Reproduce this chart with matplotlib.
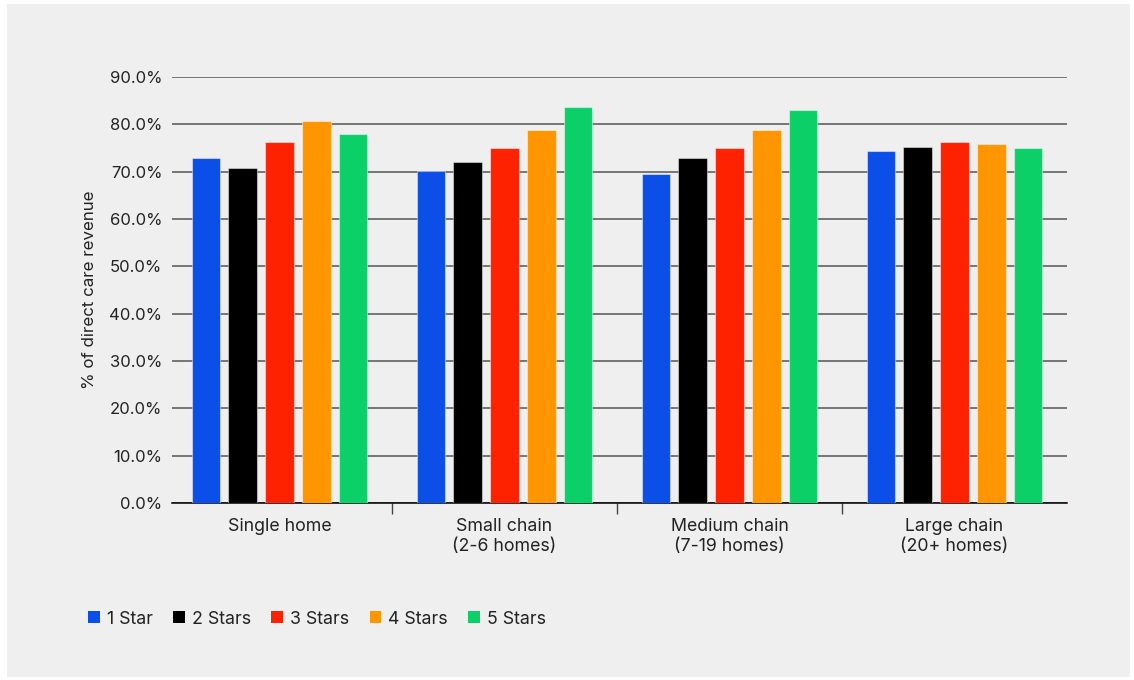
import matplotlib
matplotlib.use("Agg")
import matplotlib.pyplot as plt
import numpy as np
from matplotlib.patches import Patch, Rectangle

plt.rcParams['font.family'] = ['Inter', 'DejaVu Sans']

# Data
groups = ["Single home", "Small chain\n(2-6 homes)", "Medium chain\n(7-19 homes)", "Large chain\n(20+ homes)"]
series = ["1 Star", "2 Stars", "3 Stars", "4 Stars", "5 Stars"]
star1 = [72.9, 70.1, 69.5, 74.3]
star2 = [70.8, 72.0, 72.9, 75.2]
star3 = [76.3, 75.0, 75.0, 76.2]
star4 = [80.7, 78.8, 78.7, 75.8]
star5 = [77.9, 83.7, 83.0, 74.9]
values = [star1, star2, star3, star4, star5]
colors = ["#0b4ee8", "#000000", "#ff2200", "#ff9600", "#0bd068"]
yticks = [0, 10, 20, 30, 40, 50, 60, 70, 80, 90]

BG = "#efefef"
W, H = 1134, 680
fig = plt.figure(figsize=(W / 100, H / 100), dpi=100, facecolor="white")
# grey panel with a thin white margin
fig.patches.append(Rectangle((7 / W, 3 / H), (1130 - 7) / W, (676 - 3) / H,
                             transform=fig.transFigure, facecolor=BG,
                             edgecolor="none", zorder=-10))

ax = fig.add_axes([172 / W, 1 - 503 / H, (1067 - 172) / W, (503 - 77) / H])
ax.set_facecolor(BG)

x = np.arange(len(groups))
pitch = 0.1636
width = 0.127
for i, (vals, col) in enumerate(zip(values, colors)):
    ax.bar(x + (i - 2) * pitch, vals, width=width, color=col,
           edgecolor=(1, 1, 1, 0.45), linewidth=0.8, zorder=3)

ax.set_ylim(0, 90)
ax.set_xlim(-0.478, 3.5)
ax.set_yticks(yticks)
ax.set_yticklabels([f"{v:.1f}%" for v in yticks], fontsize=12, color="#222222")
ax.tick_params(axis="y", length=0, pad=7)
ax.yaxis.grid(True, color="#555555", linewidth=1.1, zorder=1)
ax.set_axisbelow(True)

# group separators as major ticks, group names as minor ticks
ax.set_xticks([0.5, 1.5, 2.5])
ax.set_xticklabels([])
ax.tick_params(axis="x", which="major", length=8, width=1, color="#444444")
ax.set_xticks(x, minor=True)
ax.set_xticklabels(groups, minor=True, fontsize=12.8, color="#222222", linespacing=1.2)
ax.tick_params(axis="x", which="minor", length=0, pad=11)

for s in ["top", "right", "left"]:
    ax.spines[s].set_visible(False)
ax.spines["bottom"].set_color("#000000")
ax.spines["bottom"].set_linewidth(1.1)

ax.set_ylabel("% of direct care revenue", fontsize=12.2, color="#222222", labelpad=9)

handles = [Patch(facecolor=c, edgecolor="none") for c in colors]
fig.legend(handles, series, loc="center left", bbox_to_anchor=(72 / W, 1 - 619 / H),
           ncol=5, frameon=False, fontsize=12.8, handlelength=0.65, handleheight=0.65,
           handletextpad=0.4, columnspacing=1.15, labelcolor="#222222")

fig.savefig("out.png", dpi=100, facecolor="white")
